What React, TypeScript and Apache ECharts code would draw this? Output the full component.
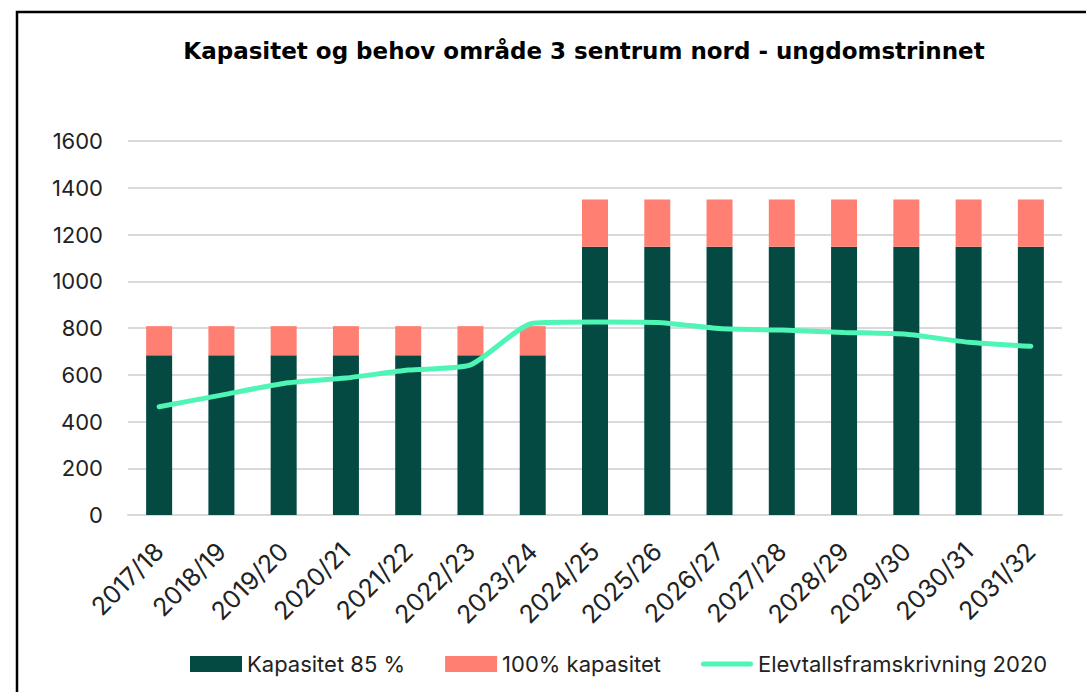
import React, { useEffect, useRef } from "react";
import * as echarts from "echarts";

const categories = ["2017/18","2018/19","2019/20","2020/21","2021/22","2022/23","2023/24","2024/25","2025/26","2026/27","2027/28","2028/29","2029/30","2030/31","2031/32"];
const kapasitet85 = [683,683,683,683,683,683,683,1148,1148,1148,1148,1148,1148,1148,1148];
const kapasitet100Extra = [125,125,125,125,125,125,125,202,202,202,202,202,202,202,202];
const elevtall = [463,513,563,586,620,642,820,826,824,798,791,781,773,739,722];
const seriesNames = ["Kapasitet 85 %", "100% kapasitet", "Elevtallsframskrivning 2020"];
const titleText = "Kapasitet og behov område 3 sentrum nord - ungdomstrinnet";

const FONT = "Inter, 'Noto Sans', sans-serif";
const LINE_ICON = "path://M2.5,0 L49.5,0 A2.5,2.5 0 0 1 49.5,5 L2.5,5 A2.5,2.5 0 0 1 2.5,0 Z";

export default function App() {
  const ref = useRef<HTMLDivElement>(null);
  useEffect(() => {
    document.body.style.margin = "0";
    const chart = echarts.init(ref.current!, null, { renderer: "svg" });
    chart.setOption({
      animation: false,
      backgroundColor: "#ffffff",
      graphic: [
        {
          type: "rect",
          shape: { x: 17, y: 12, width: 1200, height: 900 },
          style: { fill: "none", stroke: "#000", lineWidth: 2.5 },
          silent: true,
        },
        {
          type: "text",
          x: 584,
          y: 51,
          style: {
            text: titleText,
            font: "bold 23px 'DejaVu Sans', sans-serif",
            fill: "#000",
            textAlign: "center",
            textVerticalAlign: "middle",
          },
        },
      ],
      grid: { left: 128, right: 24, top: 141, bottom: 177 },
      legend: {
        left: 185,
        top: 648,
        itemWidth: 52,
        itemHeight: 16,
        itemGap: 40,
        data: [
          { name: seriesNames[0], icon: "rect" },
          { name: seriesNames[1], icon: "rect" },
          { name: seriesNames[2], icon: LINE_ICON },
        ],
        textStyle: { fontFamily: FONT, fontSize: 22, color: "#222" },
      },
      xAxis: {
        type: "category",
        data: categories,
        axisLine: { lineStyle: { color: "#d9d9d9", width: 2 } },
        axisTick: { show: false },
        axisLabel: { rotate: 45, fontFamily: FONT, fontSize: 25, color: "#222", margin: 32 },
      },
      yAxis: {
        type: "value",
        min: 0,
        max: 1600,
        interval: 200,
        axisLine: { show: false },
        axisTick: { show: false },
        splitLine: { lineStyle: { color: "#d9d9d9", width: 2 } },
        axisLabel: {
          fontFamily: FONT,
          fontSize: 22,
          color: "#222",
          margin: 25,
          formatter: (v: number) => String(v),
        },
      },
      series: [
        {
          name: seriesNames[0],
          type: "bar",
          stack: "cap",
          data: kapasitet85,
          barWidth: 26,
          itemStyle: { color: "#044a43" },
        },
        {
          name: seriesNames[1],
          type: "bar",
          stack: "cap",
          data: kapasitet100Extra,
          barWidth: 26,
          itemStyle: { color: "#ff8072" },
        },
        {
          name: seriesNames[2],
          type: "line",
          data: elevtall,
          symbol: "none",
          smooth: 0.2,
          lineStyle: { color: "#4ff5b5", width: 5, cap: "round" },
          itemStyle: { color: "#4ff5b5" },
        },
      ],
    });
    return () => chart.dispose();
  }, []);
  return <div ref={ref} style={{ width: 1086, height: 692 }} />;
}
